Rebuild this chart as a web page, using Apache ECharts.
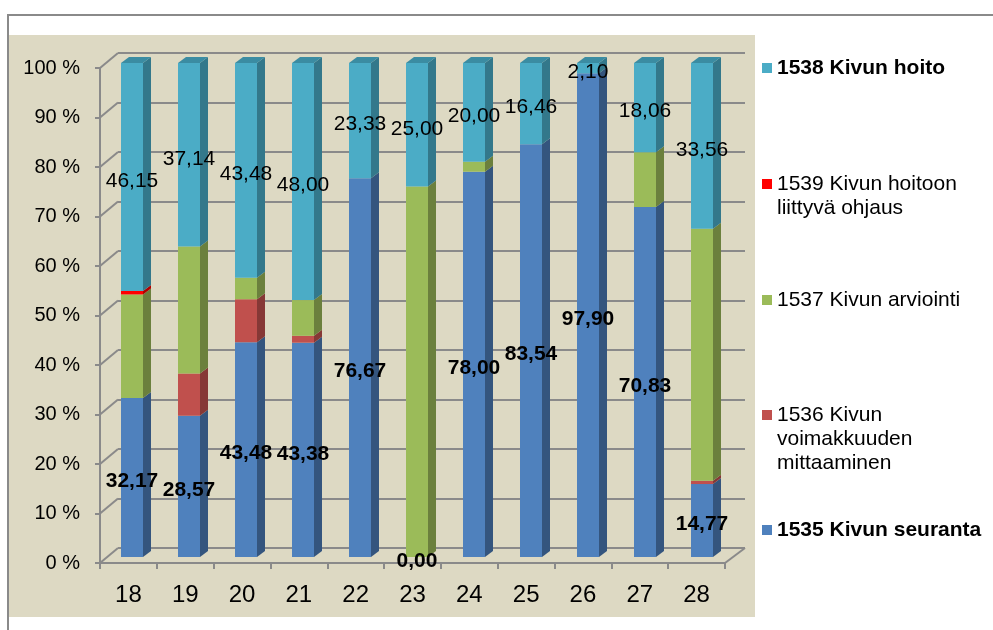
<!DOCTYPE html>
<html>
<head>
<meta charset="utf-8">
<script src="https://cdn.jsdelivr.net/npm/echarts@6/dist/echarts.min.js"></script>
<style>
  html, body { margin: 0; padding: 0; background: #ffffff; }
  #chart { width: 993px; height: 630px; }
</style>
</head>
<body>
<div id="chart"></div>
<script>
// Categories along the x axis
const categories = ['18', '19', '20', '21', '22', '23', '24', '25', '26', '27', '28'];
// Percent tick values of the value axis
const yTicks = [0, 10, 20, 30, 40, 50, 60, 70, 80, 90, 100];

// Shares (%) per category, listed in stacking order from bottom to top
const seuranta1535 = [32.17, 28.57, 43.48, 43.38, 76.67, 0.00, 78.00, 83.54, 97.90, 70.83, 14.77];
const voimakkuus1536 = [0, 8.57, 8.70, 1.40, 0, 0, 0, 0, 0, 0, 0.67];
const arviointi1537 = [20.98, 25.72, 4.34, 7.22, 0, 75.00, 2.00, 0, 0, 11.11, 51.00];
const ohjaus1539 = [0.70, 0, 0, 0, 0, 0, 0, 0, 0, 0, 0];
const hoito1538 = [46.15, 37.14, 43.48, 48.00, 23.33, 25.00, 20.00, 16.46, 2.10, 18.06, 33.56];

const FONT = '"Liberation Sans", Arial, sans-serif';
const GRID_LINE = '#8a8a8a';
const BAR_W = 22;     // front face width
const DX = 8, DY = 6; // bar depth offset

const stackDefs = [
  { name: '1535 Kivun seuranta', data: seuranta1535, color: '#4f81bd', side: '#34557e', top: '#3f6898', label: 'bold' },
  { name: '1536 Kivun voimakkuuden mittaaminen', data: voimakkuus1536, color: '#c0504d', side: '#863836', top: '#9d423f' },
  { name: '1537 Kivun arviointi', data: arviointi1537, color: '#9bbb59', side: '#6b803d', top: '#7f9a48' },
  { name: '1539 Kivun hoitoon liittyvä ohjaus', data: ohjaus1539, color: '#ff0000', side: '#b00000', top: '#d00000' },
  { name: '1538 Kivun hoito', data: hoito1538, color: '#4bacc6', side: '#33788b', top: '#3b8ca2', label: 'normal' }
];

// Segment extents [category, start, end, series, isTopmost] for the side and top faces
const totals = categories.map((_, i) => stackDefs.reduce((s, d) => s + d.data[i], 0));
const faceData = [];
categories.forEach((_, i) => {
  let acc = 0;
  stackDefs.forEach((d, si) => {
    const v = d.data[i];
    if (v > 0) faceData.push([i, acc, acc + v, si, (acc + v) >= totals[i] - 1e-6 ? 1 : 0]);
    acc += v;
  });
});

const fmt = p => Number(p.value).toFixed(2).replace('.', ',');

const barSeries = stackDefs.map(d => ({
  name: d.name,
  type: 'bar',
  stack: 'total',
  xAxisIndex: 2,
  yAxisIndex: 2,
  barWidth: BAR_W,
  data: d.data,
  itemStyle: { color: d.color },
  emphasis: { disabled: true },
  z: 3,
  label: d.label ? {
    show: true,
    position: 'inside',
    offset: [0, 4],
    formatter: fmt,
    color: '#000',
    fontFamily: FONT,
    fontSize: 21,
    fontWeight: d.label
  } : { show: false }
}));

// Right side and top faces of each bar segment
const faceSeries = {
  type: 'custom',
  name: 'faces',
  xAxisIndex: 2,
  yAxisIndex: 2,
  z: 2,
  silent: true,
  data: faceData,
  encode: { x: 0, y: [1, 2] },
  renderItem: (params, api) => {
    const k = api.value(0), s = api.value(1), e = api.value(2), si = api.value(3), isTop = api.value(4);
    const pb = api.coord([k, s]);
    const pt = api.coord([k, e]);
    const xl = pb[0] - BAR_W / 2, xr = pb[0] + BAR_W / 2;
    const def = stackDefs[si];
    const children = [{
      type: 'polygon',
      shape: { points: [[xr, pt[1]], [xr + DX, pt[1] - DY], [xr + DX, pb[1] - DY], [xr, pb[1]]] },
      style: { fill: def.side }
    }];
    if (isTop) {
      children.push({
        type: 'polygon',
        shape: { points: [[xl, pt[1]], [xr, pt[1]], [xr + DX, pt[1] - DY], [xl + DX, pt[1] - DY]] },
        style: { fill: def.top }
      });
    }
    return { type: 'group', children };
  }
};

// Slanted edges joining the front axis plane to the back wall
const frameSeries = {
  type: 'custom',
  name: 'frame',
  xAxisIndex: 0,
  yAxisIndex: 0,
  z: 1,
  silent: true,
  data: yTicks.map(v => [0, v]),
  encode: { x: 0, y: 1 },
  renderItem: (params, api) => {
    const cs = params.coordSys;
    const v = api.value(1);
    const y = api.coord([0, v])[1];
    const children = [{
      type: 'line',
      shape: { x1: cs.x, y1: y, x2: cs.x + 18, y2: y - 15 },
      style: { stroke: GRID_LINE, lineWidth: 2 }
    }];
    if (v === 0) {
      children.push({
        type: 'line',
        shape: { x1: cs.x + cs.width, y1: y, x2: cs.x + cs.width + 20, y2: y - 15 },
        style: { stroke: GRID_LINE, lineWidth: 2 }
      });
    }
    return { type: 'group', children };
  }
};

// One legend block per entry, listed top-down in reverse stacking order.
// Multi-line names get leading blank lines so the marker sits beside the first line.
const legendRows = [
  { name: '1538 Kivun hoito', text: '1538 Kivun hoito', cy: 68, bold: true },
  { name: '1539 Kivun hoitoon liittyvä ohjaus', text: '1539 Kivun hoitoon\nliittyvä ohjaus', cy: 184 },
  { name: '1537 Kivun arviointi', text: '1537 Kivun arviointi', cy: 300 },
  { name: '1536 Kivun voimakkuuden mittaaminen', text: '1536 Kivun\nvoimakkuuden\nmittaaminen', cy: 415 },
  { name: '1535 Kivun seuranta', text: '1535 Kivun seuranta', cy: 530, bold: true }
];
const LH = 24;
const legends = legendRows.map(r => {
  const n = r.text.split('\n').length;
  const shown = ' \n'.repeat(n - 1) + r.text;
  const boxH = (2 * n - 1) * LH;
  return {
    left: 762,
    top: r.cy - boxH / 2,
    padding: 0,
    orient: 'vertical',
    selectedMode: false,
    icon: 'rect',
    itemWidth: 10,
    itemHeight: 10,
    itemGap: 0,
    data: [r.name],
    formatter: () => shown,
    textStyle: {
      fontFamily: FONT,
      fontSize: 21,
      fontWeight: r.bold ? 'bold' : 'normal',
      color: '#000',
      lineHeight: LH
    }
  };
});

const chart = echarts.init(document.getElementById('chart'), null, { renderer: 'canvas' });
chart.setOption({
  animation: false,
  backgroundColor: '#ffffff',
  textStyle: { fontFamily: FONT },
  graphic: [
    { type: 'rect', z: -10, shape: { x: 9, y: 35, width: 746, height: 582 }, style: { fill: '#ddd9c3' } },
    { type: 'line', z: -5, shape: { x1: 8, y1: 15, x2: 993, y2: 15 }, style: { stroke: '#8a8a8a', lineWidth: 2 } },
    { type: 'line', z: -5, shape: { x1: 8, y1: 14, x2: 8, y2: 630 }, style: { stroke: '#8a8a8a', lineWidth: 2 } }
  ],
  legend: legends,
  grid: [
    // front plane: axis lines, ticks and labels
    { left: 100, right: 993 - 725, top: 68, bottom: 630 - 563 },
    // back wall: horizontal gridlines
    { left: 118, right: 993 - 745, top: 53, bottom: 630 - 548 },
    // plane of the bar front faces
    { left: 103.5, right: 993 - 730.5, top: 63, bottom: 630 - 557 }
  ],
  xAxis: [
    {
      gridIndex: 0, type: 'category', data: categories, boundaryGap: true,
      axisLine: { show: true, lineStyle: { color: GRID_LINE, width: 2 } },
      axisTick: { show: true, length: 6, lineStyle: { color: GRID_LINE, width: 2 } },
      axisLabel: { color: '#000', fontFamily: FONT, fontSize: 24, margin: 20 },
      splitLine: { show: false }
    },
    { gridIndex: 1, type: 'category', data: categories, show: false },
    { gridIndex: 2, type: 'category', data: categories, show: false }
  ],
  yAxis: [
    {
      gridIndex: 0, type: 'value', min: 0, max: 100, interval: 10,
      axisLine: { show: true, lineStyle: { color: GRID_LINE, width: 2 } },
      axisTick: { show: true, length: 5, lineStyle: { color: GRID_LINE, width: 2 } },
      axisLabel: { color: '#000', fontFamily: FONT, fontSize: 20, margin: 20, formatter: '{value} %' },
      splitLine: { show: false }
    },
    {
      gridIndex: 1, type: 'value', min: 0, max: 100, interval: 10,
      axisLine: { show: false }, axisTick: { show: false }, axisLabel: { show: false },
      splitLine: { show: true, lineStyle: { color: GRID_LINE, width: 2 } }
    },
    { gridIndex: 2, type: 'value', min: 0, max: 100, interval: 10, show: false, splitLine: { show: false } }
  ],
  series: [frameSeries, faceSeries].concat(barSeries)
});
</script>
</body>
</html>
